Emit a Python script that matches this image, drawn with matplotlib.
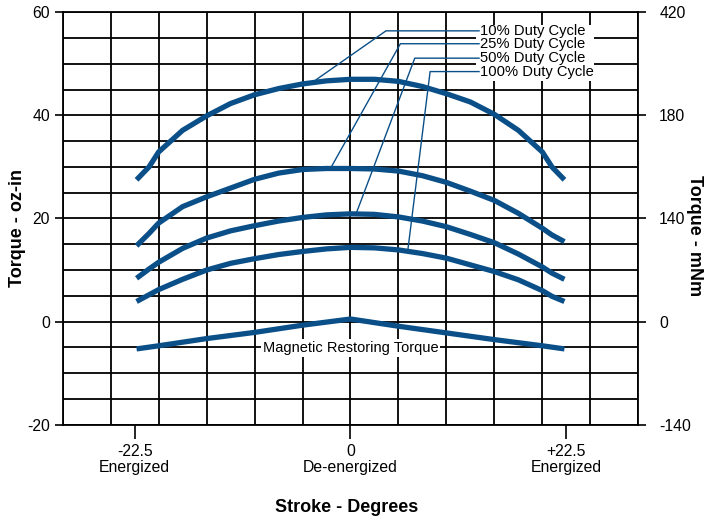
import matplotlib
matplotlib.use("Agg")
import matplotlib.pyplot as plt
from matplotlib.patches import Rectangle

plt.rcParams['font.family'] = ['Liberation Sans', 'DejaVu Sans']

# ---- data (oz-in) ----
stroke = [-22.3, -21, -20, -17.5, -15, -12.5, -10, -7.5, -5, -2.5, 0,
          2.5, 5, 7.5, 10, 12.5, 15, 17.5, 20, 21, 22.3]
duty10 = [27.5, 30.0, 32.9, 37.1, 39.9, 42.3, 44.0, 45.2, 46.1, 46.7, 47.0,
          47.0, 46.6, 45.6, 44.2, 42.6, 40.2, 37.1, 32.9, 30.0, 27.5]
duty25 = [14.7, 17.1, 19.1, 22.3, 24.2, 25.9, 27.6, 28.8, 29.5, 29.7, 29.7,
          29.6, 29.2, 28.3, 27.0, 25.3, 23.5, 21.0, 18.1, 16.8, 15.5]
duty50 = [8.4, 10.2, 11.5, 14.2, 16.2, 17.6, 18.6, 19.5, 20.2, 20.7, 20.9,
          20.8, 20.3, 19.5, 18.4, 16.9, 15.3, 13.1, 10.6, 9.4, 8.2]
duty100 = [3.9, 5.2, 6.2, 8.2, 10.0, 11.3, 12.2, 13.0, 13.6, 14.1, 14.4,
           14.3, 13.9, 13.2, 12.3, 11.0, 9.7, 8.1, 6.0, 4.9, 3.9]
mag_stroke = [-22.3, -20, -15, -10, -5, 0, 5, 10, 15, 20, 22.3]
magnetic = [-5.3, -4.7, -3.3, -2.1, -0.7, 0.5, -0.9, -2.2, -3.5, -4.7, -5.3]

labels = ["10% Duty Cycle", "25% Duty Cycle", "50% Duty Cycle", "100% Duty Cycle"]
left_ticks = [-20, 0, 20, 40, 60]
right_tick_labels = ["-140", "0", "140", "180", "420"]
x_ticks = [-22.5, 0, 22.5]
x_tick_labels = ["-22.5\nEnergized", "0\nDe-energized", "+22.5\nEnergized"]

# leader line anchors: (label y, elbow x, point on curve x, y)
leaders = [(56.4, 3.7, -3.6, 46.9),
           (53.9, 5.2, -2.0, 30.0),
           (51.1, 6.7, 0.6, 21.0),
           (48.5, 8.3, 6.0, 14.2)]

blue = "#0b4f88"

fig = plt.figure(figsize=(7.06, 5.23), dpi=100)
ax = fig.add_axes([0.0888, 0.188, 0.8153, 0.7885])
ax.set_xlim(-30, 30)
ax.set_ylim(-20, 60)

# grid
for gx in range(-30, 31, 5):
    ax.axvline(gx, color="black", lw=1.3, zorder=1)
for gy in range(-20, 61, 5):
    ax.axhline(gy, color="black", lw=1.3, zorder=1)

for xs, series in [(stroke, duty10), (stroke, duty25), (stroke, duty50),
                   (stroke, duty100), (mag_stroke, magnetic)]:
    ax.plot(xs, series, color=blue, lw=3.8, solid_capstyle="butt",
            solid_joinstyle="round", zorder=3)

# white box behind the duty cycle labels
ax.add_patch(Rectangle((13.1, 46.6), 12.3, 10.9, facecolor="white",
                       edgecolor="none", zorder=2))

text_x = 13.4
for lab, (ly, ex, cx, cy) in zip(labels, leaders):
    ax.plot([text_x, ex, cx], [ly, ly, cy], color=blue, lw=1.0, zorder=4)
    ax.text(text_x + 0.1, ly, lab, fontsize=10.6, ha="left", va="center",
            zorder=5)

ax.text(0, -5.2, "Magnetic Restoring Torque", fontsize=10.5, ha="center",
        va="center", zorder=5,
        bbox=dict(facecolor="white", edgecolor="none", pad=1.5))

for s in ax.spines.values():
    s.set_linewidth(1.3)

ax.set_yticks(left_ticks)
ax.set_yticklabels([str(t) for t in left_ticks], fontsize=11.3)
ax.tick_params(axis="y", direction="out", length=6, width=1.2, pad=3)
ax.set_xticks(x_ticks)
ax.set_xticklabels(x_tick_labels, fontsize=11.3, linespacing=1.1)
ax.tick_params(axis="x", direction="out", length=10, width=1.2, pad=4)

ax2 = ax.twinx()
ax2.set_ylim(-20, 60)
ax2.set_yticks(left_ticks)
ax2.set_yticklabels(right_tick_labels, fontsize=11.3)
ax2.tick_params(axis="y", direction="out", length=6, width=1.2, pad=9)
for s in ax2.spines.values():
    s.set_visible(False)

fig.text(18 / 706, 1 - 228 / 523, "Torque - oz-in", fontsize=13, fontweight="bold",
         rotation=90, ha="center", va="center")
fig.text(695 / 706, 1 - 236 / 523, "Torque - mNm", fontsize=13, fontweight="bold",
         rotation=-90, ha="center", va="center")
fig.text(347 / 706, 1 - 508 / 523, "Stroke - Degrees", fontsize=13,
         fontweight="bold", ha="center", va="center")

fig.savefig("out.png", dpi=100)
